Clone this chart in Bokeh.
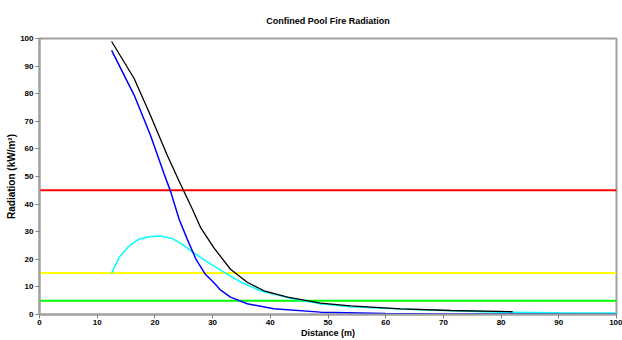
from bokeh.plotting import figure
from bokeh.models import Range1d, FixedTicker
from bokeh.embed import file_html
from bokeh.resources import INLINE

# Data
black_x = [12.5, 16.4, 19.2, 22.1, 24.2, 24.9, 26.5, 27.9, 30.2, 33.1, 36.0, 38.9, 43.0, 48.7, 53.9, 62.6, 71.3, 82.0]
black_y = [98.9, 85.5, 72.3, 57.9, 48.3, 45.2, 38.1, 31.6, 24.2, 16.4, 11.7, 8.6, 6.3, 4.1, 3.1, 2.05, 1.45, 1.0]

blue_x = [12.5, 16.4, 19.2, 21.6, 22.7, 24.2, 25.6, 27.1, 28.7, 30.2, 31.4, 33.1, 36.0, 40.6, 48.7, 60.0, 70.0, 80.0, 100.0]
blue_y = [95.7, 79.5, 65.1, 50.9, 44.7, 34.5, 27.3, 20.1, 14.7, 11.6, 8.8, 6.3, 3.9, 2.05, 0.86, 0.35, 0.2, 0.15, 0.1]

cyan_x = [12.5, 13.8, 15.5, 17.2, 19.0, 21.0, 23.0, 24.7, 26.5, 28.8, 32.0, 34.9, 38.3, 43.5, 48.7, 53.9, 62.6, 71.3, 79.9, 89.8, 100.0]
cyan_y = [15.0, 20.7, 24.8, 27.3, 28.2, 28.4, 27.5, 25.5, 22.7, 19.4, 15.3, 11.7, 8.6, 5.9, 3.9, 2.8, 1.95, 1.4, 0.85, 0.6, 0.5]

threshold_levels = [45, 15, 5]
threshold_colors = ["#FF0000", "#FFFF00", "#00FF00"]

x_ticks = list(range(0, 101, 10))
y_ticks = list(range(0, 101, 10))

FONT = "Liberation Sans"

p = figure(width=622, height=340, output_backend="svg", toolbar_location=None,
           x_range=Range1d(0, 100), y_range=Range1d(0, 100),
           title="Confined Pool Fire Radiation",
           min_border_left=39, min_border_right=6, min_border_top=38, min_border_bottom=24)

p.title.align = "center"
p.title.text_font = FONT
p.title.text_font_size = "9px"
p.title.text_font_style = "bold"
p.title.text_color = "#000000"
p.title.standoff = 26

for lvl, col in zip(threshold_levels, threshold_colors):
    p.line([0, 100], [lvl, lvl], line_color=col, line_width=2)

p.line(cyan_x, cyan_y, line_color="#00FFFF", line_width=1.5)
p.line(black_x, black_y, line_color="#000000", line_width=1.3)
p.line(blue_x, blue_y, line_color="#0000FF", line_width=1.5)

p.xgrid.visible = False
p.ygrid.visible = False
p.outline_line_color = "#A0A0A0"
p.outline_line_width = 2
p.background_fill_color = "#FFFFFF"
p.border_fill_color = "#FFFFFF"

p.xaxis.ticker = FixedTicker(ticks=x_ticks)
p.yaxis.ticker = FixedTicker(ticks=y_ticks)
p.xaxis.axis_label = "Distance (m)"
p.yaxis.axis_label = "Radiation (kW/m²)"

for ax in (p.xaxis[0], p.yaxis[0]):
    ax.axis_line_color = "#A0A0A0"
    ax.axis_line_width = 2
    ax.major_tick_line_color = "#808080"
    ax.major_tick_out = 4
    ax.major_tick_in = 0
    ax.minor_tick_line_color = None
    ax.major_label_text_font = FONT
    ax.major_label_text_font_size = "8px"
    ax.major_label_text_font_style = "bold"
    ax.major_label_text_color = "#000000"
    ax.axis_label_text_font = FONT
    ax.axis_label_text_font_style = "bold"
    ax.axis_label_text_color = "#000000"

p.xaxis[0].major_label_standoff = 1
p.xaxis[0].axis_label_standoff = 0
p.xaxis[0].axis_label_text_font_size = "9px"
p.yaxis[0].major_label_standoff = 2
p.yaxis[0].axis_label_standoff = 0
p.yaxis[0].axis_label_text_font_size = "10px"

open("out.html", "w").write(file_html(p, INLINE))
